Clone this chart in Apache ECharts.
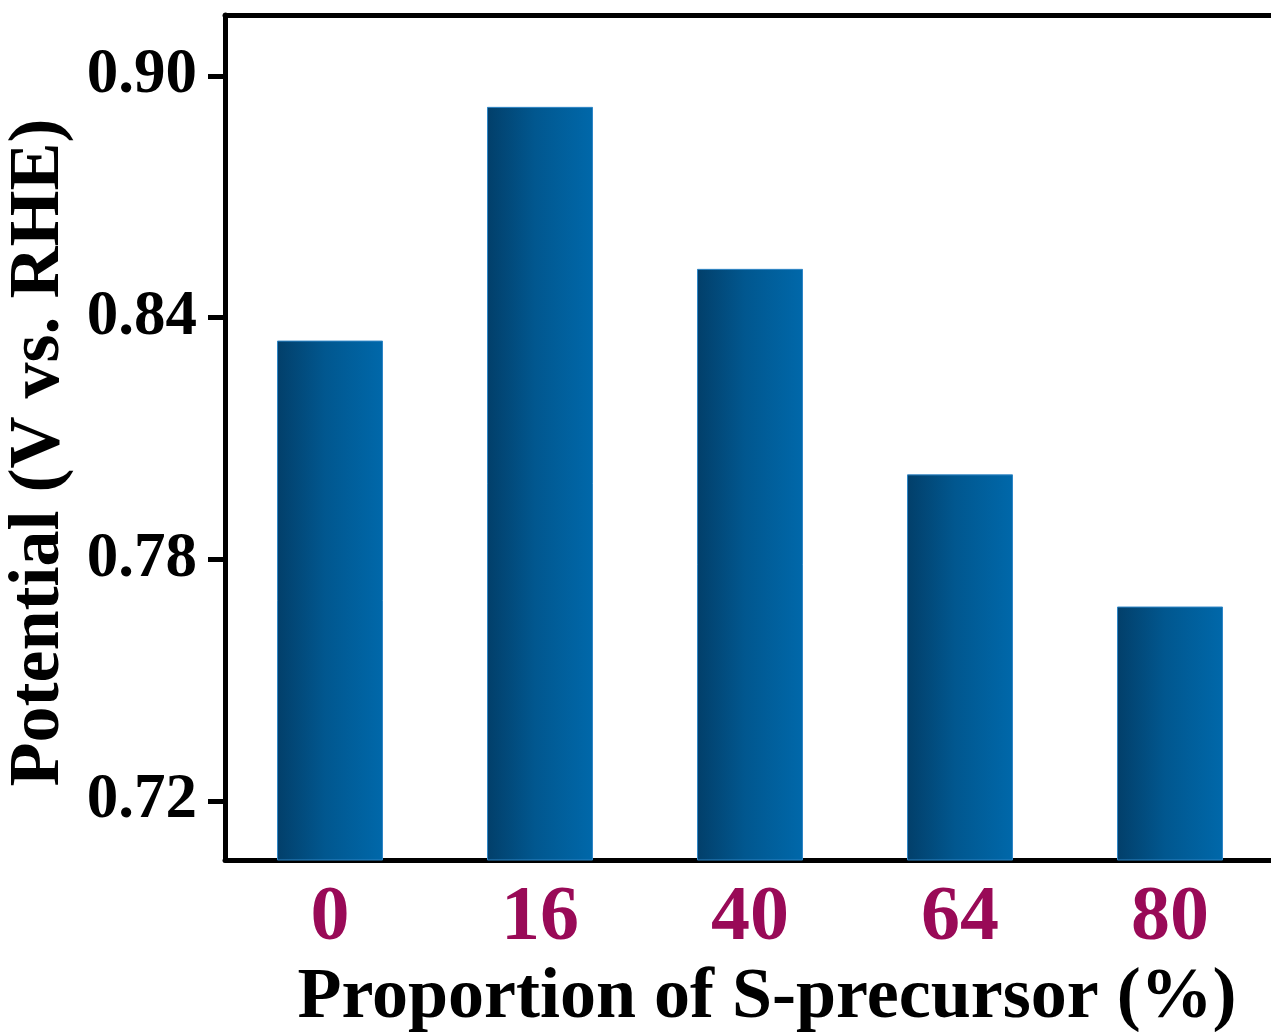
<!DOCTYPE html>
<html><head><meta charset="utf-8">
<script src="https://cdn.jsdelivr.net/npm/echarts@6/dist/echarts.min.js"></script>
<style>html,body{margin:0;padding:0;background:#fff}#c{width:1271px;height:1032px}</style>
</head><body><div id="c"></div>
<script>
const categories = ['0', '16', '40', '64', '80'];
const potentials = [0.8343, 0.8923, 0.8521, 0.8011, 0.7683];
const yTicks = [0.72, 0.78, 0.84, 0.90];

const chart = echarts.init(document.getElementById('c'));
const font = '"Liberation Serif", "Times New Roman", serif';
chart.setOption({
  animation: false,
  grid: { left: 225, top: 15, width: 1050, height: 845, outerBoundsMode: 'none', containLabel: false },
  xAxis: [{
    type: 'category', data: categories,
    axisLine: { lineStyle: { color: '#000', width: 5 } },
    axisTick: { alignWithLabel: true, length: 17, lineStyle: { color: '#000', width: 5 } },
    axisLabel: { color: '#990a57', fontFamily: font, fontWeight: 'bold', fontSize: 78, margin: 20 },
    name: 'Proportion of S-precursor (%)', nameLocation: 'middle', nameGap: 100,
    nameTextStyle: { color: '#000', fontFamily: font, fontWeight: 'bold', fontSize: 72, padding: [0, 0, 0, 34] }
  }, {
    type: 'category', data: categories, position: 'top',
    axisLine: { lineStyle: { color: '#000', width: 5 } },
    axisTick: { show: false }, axisLabel: { show: false }
  }],
  yAxis: {
    type: 'value', min: 0.7054, max: 0.9151,
    splitLine: { show: false },
    axisLine: { show: true, lineStyle: { color: '#000', width: 5 } },
    axisTick: { show: true, length: 17, customValues: yTicks, lineStyle: { color: '#000', width: 5 } },
    axisLabel: { customValues: yTicks, formatter: v => v.toFixed(2), color: '#000', fontFamily: font, fontWeight: 'bold', fontSize: 63, margin: 28 },
    name: 'Potential (V vs. RHE)', nameLocation: 'middle', nameGap: 150, nameRotate: 90,
    nameTextStyle: { color: '#000', fontFamily: font, fontWeight: 'bold', fontSize: 72, padding: [0, 30, 0, 0] }
  },
  series: [{
    type: 'bar', data: potentials, barWidth: 106,
    itemStyle: {
      color: new echarts.graphic.LinearGradient(0, 0, 1, 0, [
        { offset: 0, color: '#023f6a' },
        { offset: 0.45, color: '#01578f' },
        { offset: 1, color: '#0068aa' }
      ]),
      borderColor: '#2f86c6', borderWidth: 1
    }
  }]
});
</script></body></html>
